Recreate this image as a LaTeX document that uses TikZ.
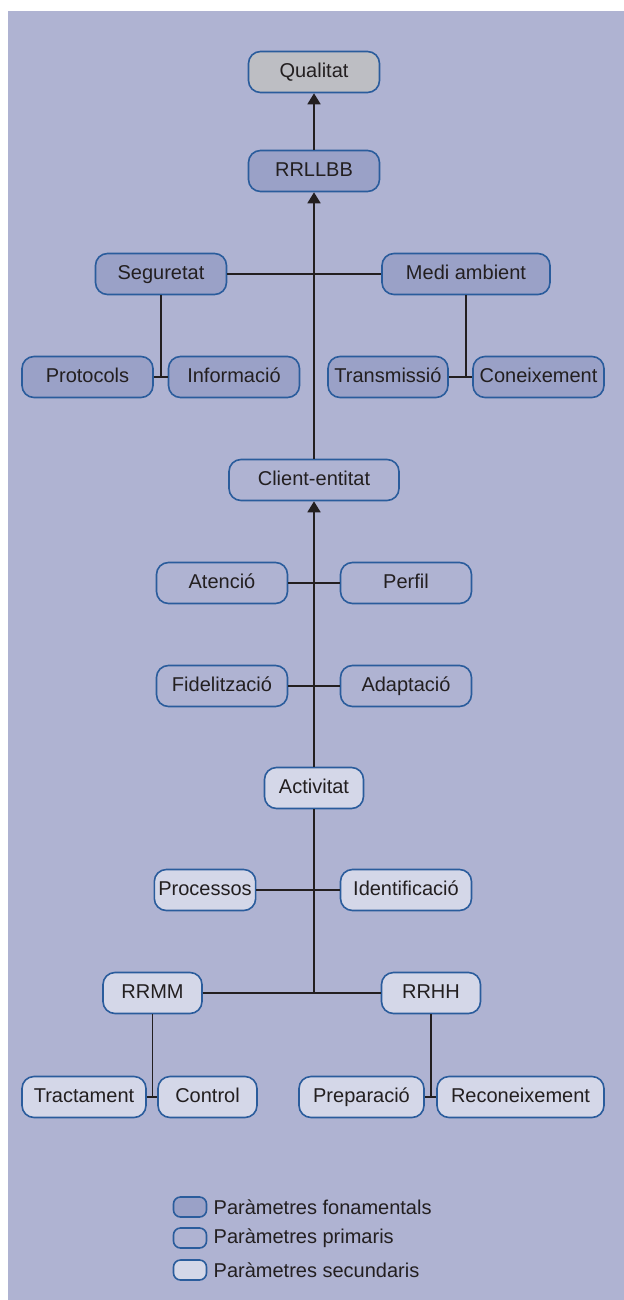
\documentclass[tikz,border=0pt]{standalone}
\usepackage{fontspec}
\setmainfont{Liberation Sans}
\usepackage{tikz}
\usetikzlibrary{arrows.meta}
\usetikzlibrary{positioning}
\definecolor{bgcol}{HTML}{AFB3D2}
\definecolor{fonfill}{HTML}{9AA1C7}
\definecolor{secfill}{HTML}{D4D7E8}
\definecolor{qualfill}{HTML}{BDBEC3}
\definecolor{parborder}{HTML}{2A5C9C}
\definecolor{linecol}{HTML}{231F20}
\tikzset{
  param/.style={
    rectangle,
    rounded corners=6pt,
    draw=parborder, line width=0.8pt,
    minimum width=65.5pt,
    minimum height=20.5pt,
    text height=7.4pt, text depth=2.1pt,
    inner sep=2pt,
    text=linecol,
    text centered,
  },
  fonam/.style={param, fill=fonfill},
  prim/.style={param},
  secund/.style={param, fill=secfill},
  qual/.style={param, fill=qualfill},
  legbox/.style={param, rounded corners=3.5pt, minimum width=16.5pt, minimum height=10pt, text height=0pt, text depth=0pt, inner sep=0pt},
  link/.style={draw=linecol, line width=0.9pt},
}

\begin{document}
\begin{tikzpicture}[x=0.5pt,y=-0.5pt,>={Triangle[length=5.5pt,width=6.5pt]}]
  \useasboundingbox (0,0) rectangle (624,1300);
  \fill[bgcol] (8,11) rectangle (624,1300);

  % main column
  \node[qual] (Qualitat) at (314,72) {Qualitat};
  \node[fonam, below of=Qualitat, node distance=49.5pt] (RRLLBB) {RRLLBB};
  \node[prim, below of=RRLLBB, node distance=154.5pt, minimum width=85pt] (Client) {Client-entitat};
  \node[secund, below of=Client, node distance=154pt, minimum width=49.5pt] (Activitat) {Activitat};

  % fonamentals
  \node[fonam] (Seguretat) at (161,274) {Seguretat};
  \node[fonam, minimum width=84pt] (Medi) at (466,274) {Medi ambient};
  \node[fonam] (Protocols) at (87.5,377) {Protocols};
  \node[fonam] (Informacio) at (234,377) {Informació};
  \node[fonam, minimum width=60pt] (Transmissio) at (388,377) {Transmissió};
  \node[fonam] (Coneixement) at (538.5,377) {Coneixement};

  % primaris
  \node[prim] (Atencio) at (222,583) {Atenció};
  \node[prim] (Perfil) at (406,583) {Perfil};
  \node[prim] (Fidelitzacio) at (222,686) {Fidelització};
  \node[prim] (Adaptacio) at (406,686) {Adaptació};

  % secundaris
  \node[secund, minimum width=50pt] (Processos) at (205,890) {Processos};
  \node[secund] (Identificacio) at (406,890) {Identificació};
  \node[secund, minimum width=49.5pt] (RRMM) at (152.5,993) {RRMM};
  \node[secund, minimum width=49.5pt] (RRHH) at (431,993) {RRHH};
  \node[secund, minimum width=62pt] (Tractament) at (84,1097) {Tractament};
  \node[secund, minimum width=49.5pt] (Control) at (207.5,1097) {Control};
  \node[secund, minimum width=62.5pt] (Preparacio) at (361.5,1097) {Preparació};
  \node[secund, minimum width=83.5pt] (Reconeixement) at (520.5,1097) {Reconeixement};

  % connexions
  \coordinate (segj) at (Seguretat |- Protocols);
  \coordinate (medj) at (Medi |- Transmissio);
  \coordinate (mmj) at (RRMM |- Tractament);
  \coordinate (hhj) at (RRHH |- Preparacio);
  \coordinate (basej) at (Activitat |- RRMM);
  \draw[link,->] (RRLLBB) -- (Qualitat);
  \draw[link,->] (Client) -- (RRLLBB);
  \draw[link,->] (Activitat) -- (Client);
  \draw[link] (basej) -- (Activitat);
  \draw[link] (Seguretat) -- (Medi);
  \draw[link] (Seguretat) -- (segj);
  \draw[link] (Protocols) -- (Informacio);
  \draw[link] (Medi) -- (medj);
  \draw[link] (Transmissio) -- (Coneixement);
  \draw[link] (Atencio) -- (Perfil);
  \draw[link] (Fidelitzacio) -- (Adaptacio);
  \draw[link] (Processos) -- (Identificacio);
  \draw[link] (RRMM) -- (RRHH);
  \draw[link] (RRMM) -- (mmj);
  \draw[link] (Tractament) -- (Control);
  \draw[link] (RRHH) -- (hhj);
  \draw[link] (Preparacio) -- (Reconeixement);

  % llegenda
  \node[legbox, fill=fonfill] (legF) at (190,1207) {};
  \node[legbox] (legP) at (190,1238) {};
  \node[legbox, fill=secfill] (legS) at (190,1270) {};
  \node[right=2pt of legF, inner sep=1pt, text=linecol] (legFt) {Paràmetres fonamentals};
  \node[right=2pt of legP, inner sep=1pt, text=linecol] (legPt) {Paràmetres primaris};
  \node[right=2pt of legS, inner sep=1pt, text=linecol] (legSt) {Paràmetres secundaris};
\end{tikzpicture}
\end{document}
